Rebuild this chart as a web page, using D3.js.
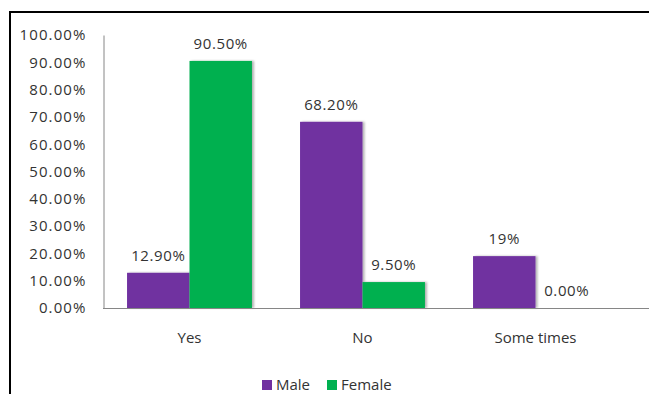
<!DOCTYPE html>
<html><head><meta charset="utf-8">
<script src="https://cdn.jsdelivr.net/npm/d3@7"></script>
<style>html,body{margin:0;padding:0;background:#fff;}svg{display:block;}</style>
</head><body>
<script>
const categories = ["Yes", "No", "Some times"];
const seriesNames = ["Male", "Female"];
const maleValues = [12.9, 68.2, 19];
const femaleValues = [90.5, 9.5, 0];
const maleLabels = ["12.90%", "68.20%", "19%"];
const femaleLabels = ["90.50%", "9.50%", "0.00%"];
const yTicks = [0, 10, 20, 30, 40, 50, 60, 70, 80, 90, 100];
const colors = ["#7030A0", "#00B050"];

const W = 649, H = 394;
const svg = d3.select("body").append("svg").attr("width", W).attr("height", H);
const font = "'Open Sans', sans-serif";
const fs = 15;
const textColor = "#333";

// frame
svg.append("line").attr("x1", 10).attr("x2", W).attr("y1", 12).attr("y2", 12).attr("stroke", "#000").attr("stroke-width", 2);
svg.append("line").attr("x1", 10).attr("x2", 10).attr("y1", 11).attr("y2", H).attr("stroke", "#000").attr("stroke-width", 2);

const x0 = d3.scaleBand().domain(categories).range([103, 622]).paddingInner(0.278).paddingOuter(0.139);
const x1 = d3.scaleBand().domain(seriesNames).range([0, x0.bandwidth()]);
const y = d3.scaleLinear().domain([0, 100]).range([308, 35]);

const data = categories.map((c, i) => ({ cat: c, vals: [
  { s: "Male", v: maleValues[i], label: maleLabels[i] },
  { s: "Female", v: femaleValues[i], label: femaleLabels[i] }
]}));

// y axis
const yAxis = d3.axisLeft(y).tickValues(yTicks).tickSize(0).tickPadding(17).tickFormat(d => d.toFixed(2) + "%");
const gy = svg.append("g").attr("transform", "translate(103.5,0)").call(yAxis);
gy.select(".domain").attr("stroke", "#868686");
gy.selectAll("text").attr("font-family", font).attr("font-size", fs).attr("fill", textColor).attr("letter-spacing", 1.1);

// bars
const defs = svg.append("defs");
const f = defs.append("filter").attr("id", "sh").attr("x", "-20%").attr("y", "-5%").attr("width", "150%").attr("height", "110%");
f.append("feDropShadow").attr("dx", 2).attr("dy", 0).attr("stdDeviation", 1.2).attr("flood-color", "#000").attr("flood-opacity", 0.3);

const groups = svg.append("g").selectAll("g").data(data).join("g")
  .attr("transform", d => `translate(${x0(d.cat)},0)`);
groups.selectAll("rect").data(d => d.vals).join("rect")
  .attr("x", d => x1(d.s)).attr("width", x1.bandwidth())
  .attr("y", d => y(d.v)).attr("height", d => y(0) - y(d.v))
  .attr("fill", (d, i) => colors[i]).attr("filter", "url(#sh)");
groups.selectAll("text").data(d => d.vals).join("text")
  .attr("x", d => x1(d.s) + x1.bandwidth() / 2)
  .attr("y", d => y(d.v) - 12)
  .attr("text-anchor", "middle")
  .attr("font-family", font).attr("font-size", fs).attr("fill", textColor).attr("letter-spacing", 0.6)
  .text(d => d.label);

// x baseline
svg.append("line").attr("x1", 103).attr("x2", W).attr("y1", 308.5).attr("y2", 308.5).attr("stroke", "#868686");

// category labels
svg.append("g").selectAll("text").data(categories).join("text")
  .attr("x", d => x0(d) + x0.bandwidth() / 2).attr("y", 343)
  .attr("text-anchor", "middle").attr("font-family", font).attr("font-size", fs).attr("fill", textColor)
  .text(d => d);

// legend
const legX = [262, 327];
const leg = svg.append("g").selectAll("g").data(seriesNames).join("g")
  .attr("transform", (d, i) => `translate(${legX[i]},380)`);
leg.append("rect").attr("width", 10).attr("height", 10).attr("fill", (d, i) => colors[i]);
leg.append("text").attr("x", 14).attr("y", 10).attr("font-family", font).attr("font-size", fs).attr("fill", textColor).text(d => d);
</script>
</body></html>
